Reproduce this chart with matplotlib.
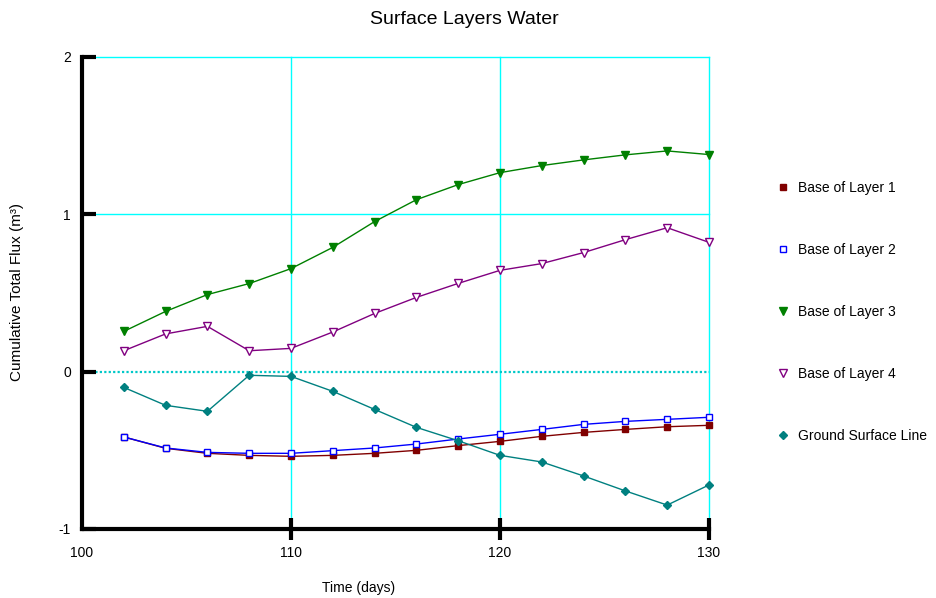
import matplotlib
matplotlib.use("Agg")
import matplotlib.pyplot as plt
from matplotlib.lines import Line2D
from matplotlib.ticker import FuncFormatter

plt.rcParams['font.family'] = ['Liberation Sans', 'DejaVu Sans']

time_days = [102, 104, 106, 108, 110, 112, 114, 116, 118, 120, 122, 124, 126, 128, 130]
layer1 = [-0.415, -0.487, -0.519, -0.532, -0.538, -0.532, -0.519, -0.500, -0.470, -0.443,
          -0.411, -0.386, -0.367, -0.350, -0.341]
layer2 = [-0.415, -0.485, -0.513, -0.519, -0.519, -0.502, -0.485, -0.460, -0.428, -0.398,
          -0.367, -0.335, -0.316, -0.303, -0.290]
layer3 = [0.256, 0.383, 0.490, 0.560, 0.655, 0.790, 0.954, 1.093, 1.189, 1.265,
          1.310, 1.346, 1.378, 1.403, 1.380]
layer4 = [0.133, 0.240, 0.288, 0.133, 0.148, 0.252, 0.370, 0.472, 0.561, 0.644,
          0.687, 0.757, 0.839, 0.915, 0.822]
ground = [-0.100, -0.214, -0.252, -0.023, -0.030, -0.125, -0.240, -0.354, -0.439, -0.532,
          -0.574, -0.663, -0.758, -0.848, -0.720]

labels = ["Base of Layer 1", "Base of Layer 2", "Base of Layer 3", "Base of Layer 4",
          "Ground Surface Line"]
x_ticks = [100, 110, 120, 130]
y_ticks = [-1, 0, 1, 2]

fig = plt.figure(figsize=(9.37, 5.98), dpi=100)
ax = fig.add_axes([82/937, 1-529/598, (709-82)/937, (529-57)/598])

# grid
for xv in [110, 120, 130]:
    ax.axvline(xv, color='#00FFFF', lw=1.0, zorder=1, clip_on=False)
for yv in [1, 2]:
    ax.axhline(yv, color='#00FFFF', lw=1.0, zorder=1, clip_on=False)
ax.axhline(0, color='#00C8C8', lw=1.6, ls=(0, (1, 1)), zorder=1)

styles = [
    dict(color='#800000', marker='s', mfc='#800000', mec='#800000', ms=5),
    dict(color='#0000FF', marker='s', mfc='white', mec='#0000FF', ms=5),
    dict(color='#008000', marker='v', mfc='#008000', mec='#008000', ms=6),
    dict(color='#800080', marker='v', mfc='white', mec='#800080', ms=6),
    dict(color='#008080', marker='D', mfc='#008080', mec='#008080', ms=4),
]
series = [layer1, layer2, layer3, layer4, ground]
for s, st, lab in zip(series, styles, labels):
    ax.plot(time_days, s, lw=1.0, mew=1.0, label=lab, zorder=3, clip_on=False, **st)

ax.set_xlim(100, 130)
ax.set_ylim(-1, 2)
ax.set_xticks(x_ticks)
ax.set_yticks(y_ticks)
ax.yaxis.set_major_formatter(FuncFormatter(lambda v, p: f"{v:.0f}".replace('\u2212', '-')))
ax.spines['top'].set_visible(False)
ax.spines['right'].set_visible(False)
ax.spines['left'].set_linewidth(3)
ax.spines['bottom'].set_linewidth(3)
ax.tick_params(axis='x', direction='inout', length=16, width=3, labelsize=10, pad=4)
ax.tick_params(axis='y', direction='in', length=10, width=3, labelsize=10, pad=8)
ax.xaxis.get_major_ticks()[0].tick1line.set_visible(False)

fig.text(464/937, 1-19/598, "Surface Layers Water", ha='center', va='center', fontsize=14)
fig.text(17/937, 1-292/598, "Cumulative Total Flux (m³)", ha='center', va='center',
         rotation=90, fontsize=11)
fig.text(359/937, 1-588/598, "Time (days)", ha='center', va='center', fontsize=10)

handles = [Line2D([], [], ls='none', **st) for st in styles]
for i, st in enumerate(styles):
    handles[i].set_markersize(st['ms'] * 0.9)
fig.legend(handles, labels, loc='upper left', bbox_to_anchor=(776/937, 1-181/598),
           frameon=False, fontsize=10, labelspacing=3.45, handlelength=1.0,
           handletextpad=0.6, borderpad=0, borderaxespad=0)

fig.savefig("out.png", dpi=100)
